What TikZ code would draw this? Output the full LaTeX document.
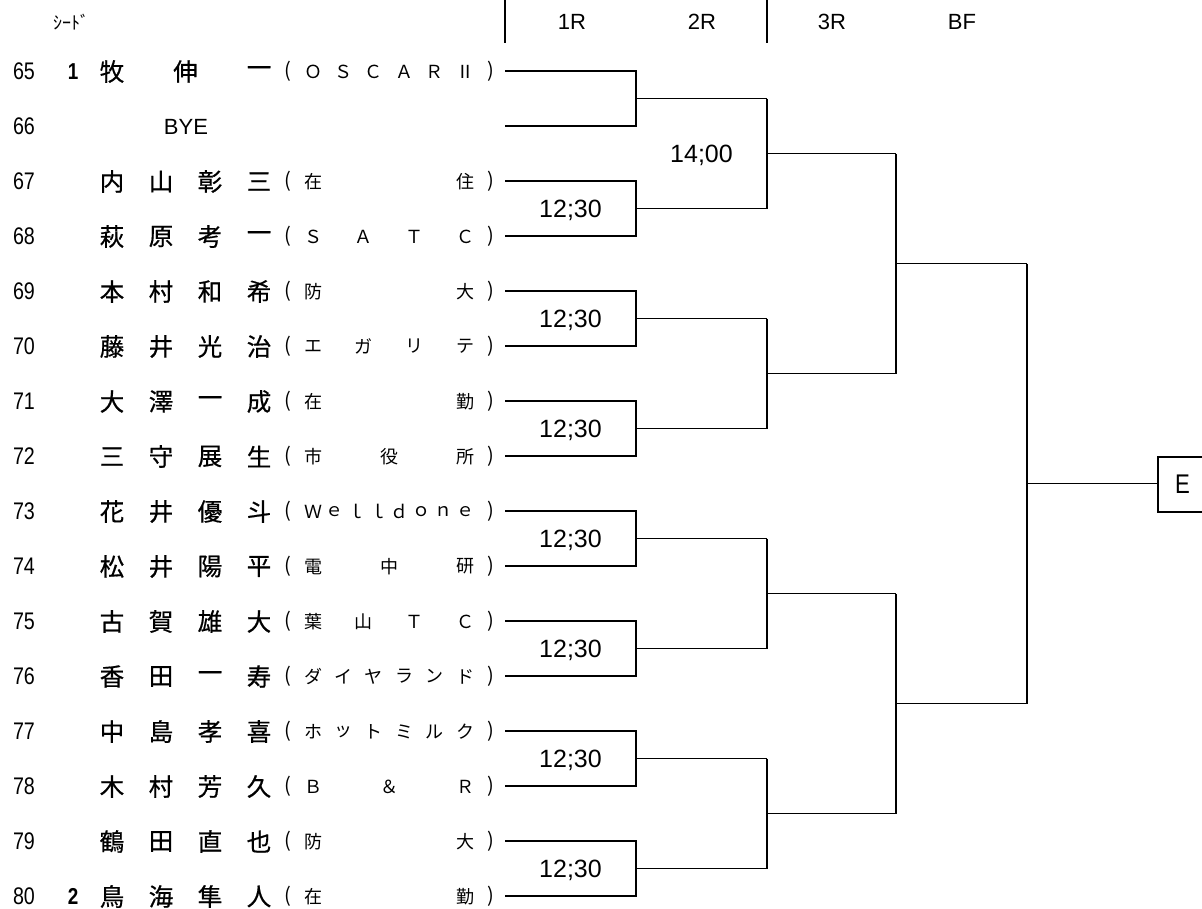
\documentclass[tikz,border=0pt]{standalone}
\usepackage{fontspec}
\setmainfont{Liberation Sans}
\newfontfamily\jp{Noto Sans CJK JP}
\newfontfamily\jpb{Noto Sans CJK JP}[FakeBold=0.6]
\newfontfamily\numf{Liberation Sans}[FakeStretch=0.82]
\usetikzlibrary{calc}
\newcommand\playerrow[6]{%
  \pgfmathsetmacro\yy{71+55*(#1-65)+0.5}
  \node[rownum] (num#1) at (13,\yy) {#1};
  \node[seedno] (seed#1) at (73,\yy) {#2};
  \foreach \c [count=\i] in {#4} {%
    \pgfmathsetmacro\xx{112+(\i-1)*147/(#3-1)}
    \node[namech] (nm#1-\i) at (\xx,\yy) {\c};
  }
  \node[parch] (po#1) at (288,\yy) {(};
  \foreach \c [count=\i] in {#6} {%
    \pgfmathsetmacro\xx{313+(\i-1)*152/(#5-1)}
    \node[clubch] (cl#1-\i) at (\xx,\yy) {\c};
  }
  \node[parch] (pc#1) at (491,\yy) {)};
}
\begin{document}
\begin{tikzpicture}[x=1pt,y=-1pt,line width=1.2pt,
  every node/.style={inner sep=0pt, outer sep=0pt},
  rownum/.style={font=\numf\fontsize{24}{24}\selectfont, anchor=west},
  namech/.style={font=\jpb\fontsize{24.5}{24.5}\selectfont},
  clubch/.style={font=\jp\fontsize{18}{18}\selectfont},
  parch/.style={font=\jp\fontsize{20}{20}\selectfont},
  seedno/.style={font=\numf\bfseries\fontsize{23}{23}\selectfont},
  timelbl/.style={font=\fontsize{25}{25}\selectfont},
  hdr/.style={font=\fontsize{22}{22}\selectfont},
  bline/.style={line width=1.2pt}]
\useasboundingbox (0,0) rectangle (1202,908);
\clip (0,0) rectangle (1202,908);

% header
\node[font=\jp\fontsize{18}{18}\selectfont] (seedhdr) at (71,22) {ｼｰﾄﾞ};
\node[hdr] (h1R) at (572,22) {1R};
\node[hdr] (h2R) at (702,22) {2R};
\node[hdr] (h3R) at (832,22) {3R};
\node[hdr] (hBF) at (962,22) {BF};
\coordinate (hv1t) at (505,0); \coordinate (hv1b) at (505,43);
\coordinate (hv2t) at (767,0); \coordinate (hv2b) at (767,43);
\draw[bline] (hv1t) -- (hv1b);
\draw[bline] (hv2t) -- (hv2b);

% players
\playerrow{65}{1}{3}{牧,伸,一}{6}{Ｏ,Ｓ,Ｃ,Ａ,Ｒ,Ⅱ}
\node[rownum] (num66) at (13,126.5) {66};
\node[font=\fontsize{22}{22}\selectfont] (bye) at (186,126.5) {BYE};
\playerrow{67}{}{4}{内,山,彰,三}{2}{在,住}
\playerrow{68}{}{4}{萩,原,考,一}{4}{Ｓ,Ａ,Ｔ,Ｃ}
\playerrow{69}{}{4}{本,村,和,希}{2}{防,大}
\playerrow{70}{}{4}{藤,井,光,治}{4}{エ,ガ,リ,テ}
\playerrow{71}{}{4}{大,澤,一,成}{2}{在,勤}
\playerrow{72}{}{4}{三,守,展,生}{3}{市,役,所}
\playerrow{73}{}{4}{花,井,優,斗}{8}{Ｗ,ｅ,ｌ,ｌ,ｄ,ｏ,ｎ,ｅ}
\playerrow{74}{}{4}{松,井,陽,平}{3}{電,中,研}
\playerrow{75}{}{4}{古,賀,雄,大}{4}{葉,山,Ｔ,Ｃ}
\playerrow{76}{}{4}{香,田,一,寿}{6}{ダ,イ,ヤ,ラ,ン,ド}
\playerrow{77}{}{4}{中,島,孝,喜}{6}{ホ,ッ,ト,ミ,ル,ク}
\playerrow{78}{}{4}{木,村,芳,久}{3}{Ｂ,＆,Ｒ}
\playerrow{79}{}{4}{鶴,田,直,也}{2}{防,大}
\playerrow{80}{2}{4}{鳥,海,隼,人}{2}{在,勤}

% bracket anchor points
\foreach \r in {65,...,80} {
  \pgfmathsetmacro\yy{71+55*(\r-65)}
  \coordinate (L\r) at (505,\yy);
  \coordinate (R\r) at (636,\yy);
}
% round 1
\foreach \k in {1,...,8} {
  \pgfmathtruncatemacro\a{63+2*\k}
  \pgfmathtruncatemacro\b{64+2*\k}
  \draw[bline] (L\a) -- (R\a) -- (R\b) -- (L\b);
  \coordinate (m1-\k) at ($(R\a)!0.5!(R\b)$);
  \coordinate (o1-\k) at ($(m1-\k)+(131,0)$);
  \draw[bline] (m1-\k) -- (o1-\k);
}
\foreach \k in {2,...,8} {
  \node[timelbl] (t1-\k) at ($(m1-\k)+(-65.5,2)$) {12;30};
}
% round 2
\foreach \k in {1,...,4} {
  \pgfmathtruncatemacro\a{2*\k-1}
  \pgfmathtruncatemacro\b{2*\k}
  \draw[bline] (o1-\a) -- (o1-\b);
  \coordinate (m2-\k) at ($(o1-\a)!0.5!(o1-\b)$);
  \coordinate (o2-\k) at ($(m2-\k)+(129,0)$);
  \draw[bline] (m2-\k) -- (o2-\k);
}
\node[timelbl] (t2-1) at ($(m2-1)+(-65.5,2)$) {14;00};
% round 3
\foreach \k in {1,2} {
  \pgfmathtruncatemacro\a{2*\k-1}
  \pgfmathtruncatemacro\b{2*\k}
  \draw[bline] (o2-\a) -- (o2-\b);
  \coordinate (m3-\k) at ($(o2-\a)!0.5!(o2-\b)$);
  \coordinate (o3-\k) at ($(m3-\k)+(131,0)$);
  \draw[bline] (m3-\k) -- (o3-\k);
}
% round 4
\draw[bline] (o3-1) -- (o3-2);
\coordinate (m4) at ($(o3-1)!0.5!(o3-2)$);
\node[draw, line width=1.2pt, anchor=west, minimum height=55pt, inner xsep=17pt,
      font=\numf\fontsize{27}{27}\selectfont] (E) at ($(m4)+(131,1)$) {E};
\draw[bline] (m4) -- (m4 -| E.west);
\end{tikzpicture}
\end{document}
